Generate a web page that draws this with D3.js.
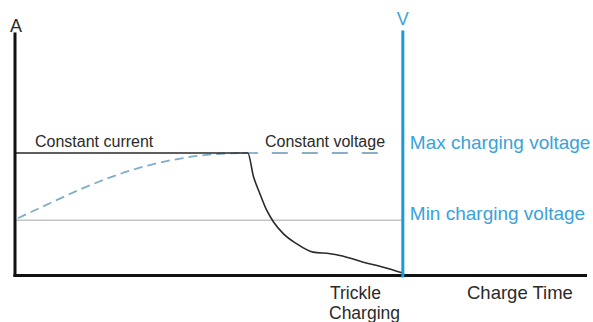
<!DOCTYPE html>
<html>
<head>
<meta charset="utf-8">
<script src="https://cdn.jsdelivr.net/npm/d3@7"></script>
<style>
  html, body { margin: 0; padding: 0; background: #fff; }
  svg { display: block; font-family: "Liberation Sans", Arial, sans-serif; }
</style>
</head>
<body>
<svg id="chart" width="593" height="322"></svg>
<script>
// ---- Data (charge time units, normalised level units) ----
const currentTime  = [0, 4.07, 4.17, 4.28, 4.40, 4.52, 4.69, 4.92, 5.21, 5.51, 5.68, 6.09, 6.44, 6.78];
const currentLevel = [1, 1, 0.806, 0.670, 0.533, 0.437, 0.342, 0.260, 0.191, 0.178, 0.164, 0.109, 0.068, 0.02];

const voltageRiseTime  = [0.05, 0.61, 1.19, 1.78, 2.36, 2.94, 3.53, 3.93];
const voltageRiseLevel = [0.467, 0.590, 0.713, 0.820, 0.902, 0.959, 0.992, 1.0];
const voltageHoldTime  = [3.93, 6.50];
const voltageHoldLevel = [1.0, 1.0];

const maxLevel = 1.0;         // max charging voltage / constant current level
const minLevel = 0.451;       // min charging voltage level
const trickleTime = 6.78;     // voltage axis / trickle charging point
const timeMax = 10;
const levelMax = 1.984;

const phaseLabels = ["Constant current", "Constant voltage"];
const voltageLabels = ["Max charging voltage", "Min charging voltage"];
const axisLabels = { y: "A", v: "V", x: "Charge Time", trickle: ["Trickle", "Charging"] };

// ---- Scales ----
const svg = d3.select("#chart");
const x = d3.scaleLinear().domain([0, timeMax]).range([15, 587]);
const y = d3.scaleLinear().domain([0, maxLevel]).range([275.5, 153]);

const dark = "#2a2a2a";
const blue = "#1a9ad6";
const blueText = "#3aa2da";

// Min charging voltage line
svg.append("line")
  .attr("x1", x(0)).attr("x2", x(trickleTime))
  .attr("y1", y(minLevel)).attr("y2", y(minLevel))
  .attr("stroke", "#c4c4c4").attr("stroke-width", 1.5);

// Constant-voltage dashed (rise)
svg.append("path")
  .datum(d3.zip(voltageRiseTime, voltageRiseLevel))
  .attr("d", d3.line().x(d => x(d[0])).y(d => y(d[1])).curve(d3.curveMonotoneX))
  .attr("fill", "none").attr("stroke", "#7fadcc").attr("stroke-width", 1.8)
  .attr("stroke-dasharray", "9,5");

// Constant-voltage dashed (hold)
svg.append("path")
  .datum(d3.zip(voltageHoldTime, voltageHoldLevel))
  .attr("d", d3.line().x(d => x(d[0])).y(d => y(d[1])))
  .attr("fill", "none").attr("stroke", "#8aaec8").attr("stroke-width", 1.8)
  .attr("stroke-dasharray", "16,14").attr("stroke-dashoffset", "-2");

// Current curve
svg.append("path")
  .datum(d3.zip(currentTime, currentLevel))
  .attr("d", d3.line().x(d => x(d[0])).y(d => y(d[1])).curve(d3.curveMonotoneX))
  .attr("fill", "none").attr("stroke", dark).attr("stroke-width", 1.6);

// Axes
svg.append("line")
  .attr("x1", x(0)).attr("x2", x(0))
  .attr("y1", y(levelMax)).attr("y2", y(0) + 1.5)
  .attr("stroke", "#111").attr("stroke-width", 3);
svg.append("line")
  .attr("x1", x(0) - 1.5).attr("x2", x(timeMax))
  .attr("y1", y(0)).attr("y2", y(0))
  .attr("stroke", "#111").attr("stroke-width", 3);

// Voltage axis (blue)
svg.append("line")
  .attr("x1", x(trickleTime)).attr("x2", x(trickleTime))
  .attr("y1", y(levelMax) - 2).attr("y2", y(0) + 2)
  .attr("stroke", blue).attr("stroke-width", 3);

// Phase labels
svg.append("text").text(phaseLabels[0])
  .attr("x", x(0) + 20).attr("y", y(maxLevel) - 6)
  .attr("font-size", 16).attr("fill", dark);
svg.append("text").text(phaseLabels[1])
  .attr("x", x(4.37)).attr("y", y(maxLevel) - 6)
  .attr("font-size", 16).attr("fill", dark);

// Voltage labels
svg.append("text").text(voltageLabels[0])
  .attr("x", x(trickleTime) + 7).attr("y", y(maxLevel) - 4)
  .attr("font-size", 19).attr("fill", blueText);
svg.append("text").text(voltageLabels[1])
  .attr("x", x(trickleTime) + 7).attr("y", y(minLevel))
  .attr("font-size", 19).attr("fill", blueText);

// Axis labels
svg.append("text").text(axisLabels.y)
  .attr("x", x(0) + 1).attr("y", 32).attr("text-anchor", "middle")
  .attr("font-size", 18).attr("fill", dark);
svg.append("text").text(axisLabels.v)
  .attr("x", x(trickleTime)).attr("y", 25).attr("text-anchor", "middle")
  .attr("font-size", 18).attr("fill", blueText);
svg.append("text").text(axisLabels.x)
  .attr("x", 467).attr("y", 299)
  .attr("font-size", 18.5).attr("fill", dark);

const trickle = svg.append("text")
  .attr("font-size", 17.5).attr("fill", dark);
trickle.selectAll("tspan").data(axisLabels.trickle).join("tspan")
  .attr("x", (d, i) => i === 0 ? 330 : 329)
  .attr("y", (d, i) => 298.5 + i * 20)
  .text(d => d);
</script>
</body>
</html>
